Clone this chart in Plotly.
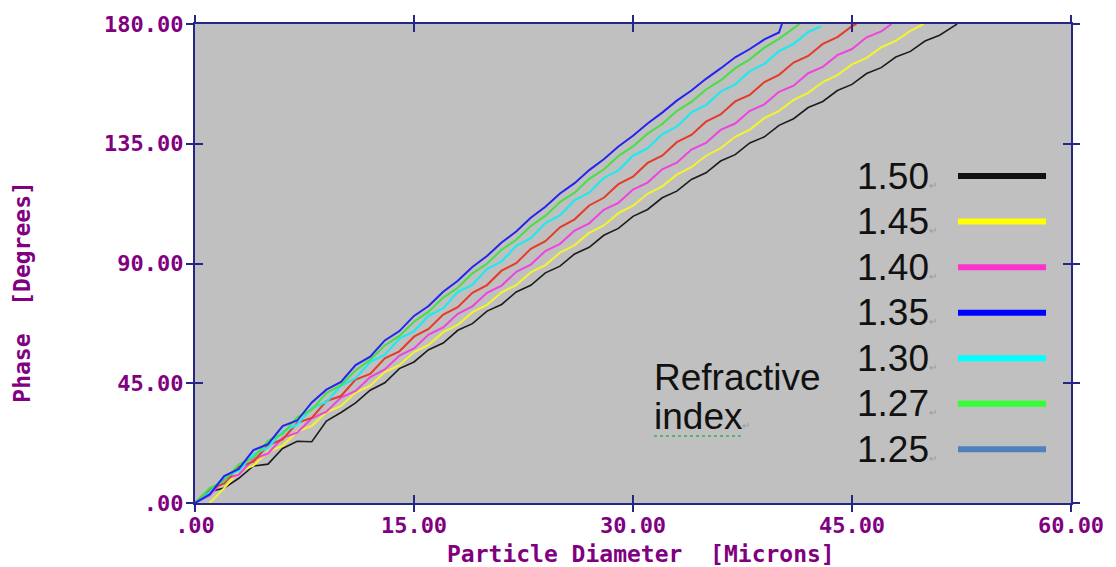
import plotly.graph_objects as go

# ---------------- data ----------------
diam_grid = list(range(0, 53))  # particle diameter [microns], 1-micron steps

phase_black = [0, 4.2, 5.6, 9.3, 13.9, 14.6, 20.5, 23.2, 23.0, 30.8, 34.0, 37.6, 42.4, 45.2, 50.5, 53.0,
               57.6, 60.1, 64.9, 67.4, 72.1, 74.6, 79.3, 81.8, 86.5, 89.0, 93.6, 96.1, 100.6, 103.2,
               107.7, 110.3, 114.7, 117.2, 121.6, 124.1, 128.5, 130.9, 135.3, 137.6, 141.9, 144.4,
               148.6, 150.9, 155.0, 157.3, 161.4, 163.6, 167.6, 169.7, 173.6, 175.8, 179.3]
phase_yellow = [None, 0.0, 5.6, 11.9, 14.0, 19.3, 21.5, 26.8, 29.0, 34.1, 36.5, 41.5, 44.1, 49.2, 51.8,
                56.7, 59.4, 64.2, 66.9, 71.7, 74.4, 79.2, 81.9, 86.7, 89.4, 94.1, 96.9, 101.5, 104.3,
                108.9, 111.7, 116.2, 119.0, 123.4, 126.2, 130.5, 133.3, 137.6, 140.3, 144.6, 147.3,
                151.5, 154.1, 158.2, 160.8, 164.8, 167.3, 171.2, 173.7, 177.4]
phase_magenta = [0, 2.8, 8.9, 10.7, 16.4, 18.6, 24.5, 26.4, 31.8, 34.3, 39.6, 42.1, 47.3, 50.2, 55.4,
                 58.1, 63.3, 66.0, 71.1, 73.9, 79.0, 81.7, 86.9, 89.6, 94.7, 97.4, 102.4, 105.1, 110.2,
                 112.8, 117.8, 120.4, 125.4, 127.9, 132.8, 135.3, 140.2, 142.6, 147.4, 149.8, 154.5,
                 156.8, 161.5, 163.9, 168.3, 170.6, 175.0, 177.2]
phase_red = [0, 5.2, 7.4, 13.6, 15.5, 21.8, 23.9, 30.1, 32.0, 38.3, 40.2, 46.4, 48.5, 54.4, 57.0, 62.5,
             65.4, 70.8, 73.6, 79.0, 81.9, 87.3, 90.1, 95.5, 98.4, 103.6, 106.6, 111.8, 114.7, 119.8,
             122.6, 127.8, 130.5, 135.6, 138.3, 143.3, 146.0, 150.9, 153.4, 158.2, 160.9, 165.5,
             168.0, 172.5, 175.1, 179.2]
phase_cyan = [0, 4.0, 9.8, 12.1, 18.3, 20.9, 26.8, 29.5, 35.6, 38.0, 44.1, 46.9, 53.0, 55.7, 61.8, 64.5,
              70.4, 73.2, 79.3, 82.0, 87.9, 90.8, 96.6, 99.5, 105.2, 108.1, 113.8, 116.6, 122.2, 125.0,
              130.5, 133.3, 138.6, 141.4, 146.8, 149.5, 154.6, 157.3, 162.3, 165.0, 169.8, 172.5, 177.0]
phase_green = [0, 5.6, 8.2, 14.5, 17.0, 23.4, 26.0, 32.2, 35.1, 41.3, 44.3, 49.9, 53.8, 59.2, 62.8,
               68.1, 71.9, 77.2, 80.9, 86.3, 89.9, 95.2, 98.9, 104.1, 107.9, 113.1, 116.6, 121.8,
               125.3, 130.4, 134.0, 138.8, 142.4, 147.3, 150.7, 155.4, 158.8, 163.4, 166.7, 171.1,
               174.4, 178.3]
phase_blue = [0, 3.2, 10.1, 12.8, 19.9, 22.1, 28.9, 31.0, 37.8, 42.6, 45.5, 51.8, 55.0, 61.1, 64.6,
              70.3, 74.0, 79.4, 83.5, 88.7, 92.8, 97.9, 102.0, 107.2, 111.3, 116.3, 120.2, 125.1,
              129.2, 134.0, 138.0, 142.6, 146.7, 151.2, 155.0, 159.4, 163.3, 167.5, 170.6, 174.2, 176.8]

# last point of each curve (where it meets the top of the chart)
end_diam = [52.2, 49.9, 47.7, 45.3, 42.9, 41.4, 40.2]
end_phase = [180.0, 180.0, 180.0, 180.0, 179.2, 180.0, 180.0]

curve_values = [phase_black, phase_yellow, phase_magenta, phase_red, phase_cyan, phase_green, phase_blue]
curve_colors = ["#1c1c1c", "#f4f42c", "#ee44dd", "#e63a2a", "#22e8ee", "#44e044", "#2424ee"]
curve_widths = [1.6, 2, 2, 2, 2.2, 2, 2]

legend_labels = ["1.50", "1.45", "1.40", "1.35", "1.30", "1.27", "1.25"]
legend_colors = ["#111111", "#ffff00", "#ff33cc", "#0000ff", "#00ffff", "#33ff33", "#4f81bd"]

x_tickvals = [0, 15, 30, 45, 60]
x_ticktext = [".00", "15.00", "30.00", "45.00", "60.00"]
y_tickvals = [0, 45, 90, 135, 180]
y_ticktext = [".00", "45.00", "90.00", "135.00", "180.00"]

# ---------------- styling ----------------
AXIS = "#26268a"
PURPLE = "#800080"
MONO = dict(family="DejaVu Sans Mono", size=22, color=PURPLE, weight="bold")
MONO_T = dict(family="DejaVu Sans Mono", size=23, color=PURPLE, weight="bold")
ARIAL = "Liberation Sans, Arial, sans-serif"

fig = go.Figure()
for vals, xe, ye, col, w in zip(curve_values, end_diam, end_phase, curve_colors, curve_widths):
    xs = diam_grid[:len(vals)] + [xe]
    ys = vals + [ye]
    fig.add_trace(go.Scatter(x=xs, y=ys, mode="lines", line=dict(color=col, width=w),
                             hoverinfo="skip", showlegend=False))

# invisible trace to host the overlay axes (outside halves of the crossing ticks)
fig.add_trace(go.Scatter(x=[], y=[], xaxis="x2", yaxis="y2", showlegend=False, hoverinfo="skip"))

common = dict(showgrid=False, zeroline=False, tickwidth=2, tickcolor=AXIS, ticklen=8)
fig.update_layout(
    width=1116, height=567,
    margin=dict(l=195, r=43, t=21, b=64),
    paper_bgcolor="white", plot_bgcolor="#c0c0c0",
    showlegend=False,
    xaxis=dict(range=[0, 60], tickvals=x_tickvals, ticktext=x_ticktext, ticks="inside",
               ticklabelstandoff=2,
               showline=True, linecolor=AXIS, linewidth=2, mirror="ticks", tickfont=MONO, **common),
    yaxis=dict(range=[0, 180], tickvals=y_tickvals, ticktext=y_ticktext, ticks="inside",
               ticklabelstandoff=5,
               showline=True, linecolor=AXIS, linewidth=2, mirror="ticks", tickfont=MONO, **common),
    xaxis2=dict(range=[0, 60], tickvals=x_tickvals, ticks="outside", overlaying="x", anchor="y2",
                showline=False, mirror="ticks", showticklabels=False, **common),
    yaxis2=dict(range=[0, 180], tickvals=y_tickvals, ticks="outside", overlaying="y", anchor="x2",
                showline=False, mirror="ticks", showticklabels=False, **common),
)

annotations = [
    dict(text="Particle Diameter\u00a0\u00a0[Microns]", x=0.509, y=-0.107, xref="paper", yref="paper",
         showarrow=False, xanchor="center", yanchor="middle", font=MONO_T),
    dict(text="Phase\u00a0\u00a0[Degrees]", x=-0.197, y=0.442, xref="paper", yref="paper",
         showarrow=False, xanchor="center", yanchor="middle", textangle=-90, font=MONO_T),
    dict(text="Refractive", x=0.522, y=0.2624, xref="paper", yref="paper", showarrow=False,
         xanchor="left", yanchor="middle", font=dict(family=ARIAL, size=37, color="#111111")),
    dict(text="index<span style='font-size:10px;color:#999999'>\u21b5</span>", x=0.522, y=0.180,
         xref="paper", yref="paper", showarrow=False, xanchor="left", yanchor="middle",
         font=dict(family=ARIAL, size=37, color="#111111")),
]

shapes = [
    # spell-check underline under "index"
    dict(type="line", xref="paper", yref="paper", x0=0.524, x1=0.623, y0=0.140, y1=0.140,
         line=dict(color="#3cb043", width=1.5, dash="dot")),
]

row_top = 0.6826
row_step = 0.0951
for i, (lab, col) in enumerate(zip(legend_labels, legend_colors)):
    yc = row_top - i * row_step
    annotations.append(dict(text=lab + "<span style='font-size:10px;color:#999999'>\u21b5</span>",
                            x=0.753, y=yc, xref="paper", yref="paper", showarrow=False,
                            xanchor="left", yanchor="middle",
                            font=dict(family=ARIAL, size=37, color="#111111")))
    shapes.append(dict(type="line", xref="paper", yref="paper", x0=0.871, x1=0.9715, y0=yc, y1=yc,
                       line=dict(color=col, width=6)))

fig.update_layout(annotations=annotations, shapes=shapes)
fig.write_html("out.html")
